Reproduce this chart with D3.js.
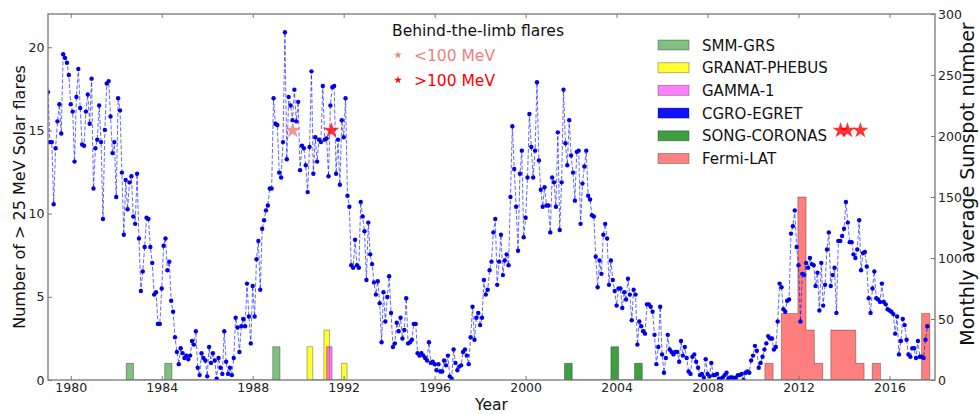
<!DOCTYPE html>
<html>
<head>
<meta charset="utf-8">
<script src="https://cdn.jsdelivr.net/npm/d3@7"></script>
<style>
  body { margin: 0; background: #fff; }
  svg { display: block; font-family: "DejaVu Sans", sans-serif; }
</style>
</head>
<body>
<svg id="chart" width="980" height="414"></svg>
<script>
// monthly average sunspot number, one value per month from Jan 1979
const sunspotStart = 1979;
const sunspot = [
  236,195,195,144,190,212,226,202,267,264,260,250, // 1979
  226,220,179,232,255,223,193,192,220,234,210,247, // 1980
  157,190,197,225,195,132,205,243,245,216,186,195, // 1981
  150,231,221,170,119,164,140,162,167,134,128,169, // 1982
  116,73,89,109,133,132,109,96,70,72,46,46,        // 1983
  75,110,116,90,97,65,56,35,23,13,26,22,           // 1984
  18,20,17,20,32,29,40,10,4,22,18,16,              // 1985
  3,27,14,22,16,1,18,10,5,40,15,5,                 // 1986
  10,4,18,51,43,23,44,50,44,79,52,30,              // 1987
  77,52,99,114,74,124,131,139,143,157,157,231,     // 1988
  210,209,170,166,195,285,181,232,225,213,238,212, // 1989
  228,172,192,190,176,154,191,253,169,199,179,197, // 1990
  195,241,197,198,167,225,240,241,169,197,160,213, // 1991
  199,231,151,142,94,92,115,94,92,146,134,122,     // 1992
  82,129,103,95,80,70,81,63,31,72,48,68,           // 1993
  85,55,27,30,47,40,51,34,41,67,30,31,             // 1994
  33,46,46,22,20,22,20,18,16,31,14,15,             // 1995
  13,8,13,7,7,16,12,20,3,1,25,14,                  // 1996
  8,11,12,23,25,20,13,35,60,33,51,55,              // 1997
  45,51,82,70,74,90,97,121,132,78,97,119,          // 1998
  86,98,103,94,150,208,173,142,106,169,188,117,    // 1999
  133,166,218,191,166,188,244,180,156,142,158,143, // 2000
  143,121,166,162,142,203,123,162,238,194,176,213, // 2001
  184,170,147,187,188,128,161,175,188,151,148,135, // 2002
  134,101,76,98,87,119,128,116,78,98,82,73,        // 2003
  61,75,75,59,72,66,83,70,49,74,70,29,             // 2004
  48,44,40,38,62,62,60,56,37,13,27,60,             // 2005
  21,6,18,37,25,23,21,23,23,15,32,20,              // 2006
  27,18,7,5,19,21,15,10,4,5,2,17,                  // 2007
  5,3,14,4,4,5,1,1,2,4,6,1,                        // 2008
  2,2,1,2,4,4,5,0,6,7,6,16,                        // 2009
  20,28,24,10,14,19,25,30,36,34,34,25,             // 2010
  27,48,79,76,58,56,65,66,120,126,139,109,         // 2011
  94,48,87,86,96,92,100,95,94,77,88,57,            // 2012
  96,61,78,107,121,77,86,92,55,114,114,118,        // 2013
  124,146,129,113,113,103,100,107,131,90,104,105,  // 2014
  93,67,55,75,89,67,66,64,79,64,62,58,             // 2015
  57,56,54,38,52,21,32,50,45,33,21,19,             // 2016
  26,26,18,32,19,19,18,33,44                       // 2017
];

// flare histograms: bin start (year), counts, bin width
const smmStart = [1982.44, 1984.13, 1988.88];
const smmCount = [1, 1, 2];
const granatStart = [1990.39, 1991.13, 1991.90];
const granatCount = [2, 3, 1];
const gammaStart = [1991.25];
const gammaCount = [2];
const songStart = [2001.71, 2003.75, 2004.79];
const songCount = [1, 2, 1];
const fermiStart = [2010.52, 2011.245, 2011.61, 2011.97, 2012.33, 2012.70, 2013.42, 2013.79, 2014.15, 2014.52, 2015.24, 2017.41];
const fermiCount = [1, 4, 4, 11, 3, 1, 3, 3, 3, 1, 1, 4];

// behind-the-limb flares (year, drawn at flare-axis level)
const btlLowYear = [1989.76];
const btlHighYear = [1991.46, 2013.85, 2014.15, 2014.72];
const btlLevel = 15;

const legendNames = ['SMM-GRS', 'GRANAT-PHEBUS', 'GAMMA-1', 'CGRO-EGRET', 'SONG-CORONAS', 'Fermi-LAT'];
const legendColors = ['#80c080', '#ffff33', '#ff80ff', '#1010ff', '#40a040', '#ff8080'];
const yearTicks = [1980, 1984, 1988, 1992, 1996, 2000, 2004, 2008, 2012, 2016];

const svg = d3.select('#chart');
const mLeft = 48, mRight = 935, mTop = 14, mBottom = 380;

const x = d3.scaleLinear().domain([1979, 2018]).range([mLeft, mRight]);
const yL = d3.scaleLinear().domain([0, 22]).range([mBottom, mTop]);
const yR = d3.scaleLinear().domain([0, 300]).range([mBottom, mTop]);

svg.append('clipPath').attr('id', 'clip')
  .append('rect').attr('x', mLeft).attr('y', mTop).attr('width', mRight - mLeft).attr('height', mBottom - mTop);
const plot = svg.append('g').attr('clip-path', 'url(#clip)');

// histograms as step-filled shapes (adjacent bins merge into one outline)
function stepPath(starts, counts, w) {
  const pts = [];
  let prevEnd = null;
  starts.forEach((s, i) => {
    if (prevEnd === null || Math.abs(s - prevEnd) > 0.02) {
      if (prevEnd !== null) pts.push([prevEnd, 0]);
      pts.push([s, 0]);
    }
    pts.push([s, counts[i]]);
    pts.push([s + w, counts[i]]);
    prevEnd = s + w;
  });
  pts.push([prevEnd, 0]);
  return d3.line().x(d => x(d[0])).y(d => yL(d[1]))(pts) + 'Z';
}

const hists = [
  { s: smmStart, c: smmCount, w: 0.32, color: '#008000', alpha: 0.5 },
  { s: granatStart, c: granatCount, w: 0.25, color: '#ffff33', alpha: 1 },
  { s: gammaStart, c: gammaCount, w: 0.24, color: '#ff00ff', alpha: 0.5 },
  { s: songStart, c: songCount, w: 0.34, color: '#008000', alpha: 0.75 },
  { s: fermiStart, c: fermiCount, w: 0.3625, color: '#ff0000', alpha: 0.5 }
];
hists.forEach(h => {
  plot.append('path')
    .attr('d', stepPath(h.s, h.c, h.w))
    .attr('fill', h.color)
    .attr('fill-opacity', h.alpha)
    .attr('stroke', '#000')
    .attr('stroke-opacity', 0.3)
    .attr('stroke-width', 1);
});

// sunspot series
const pts = sunspot.map((v, i) => [sunspotStart + i / 12, v]);
plot.append('path')
  .datum(pts)
  .attr('fill', 'none')
  .attr('stroke', '#0000ff')
  .attr('stroke-opacity', 0.6)
  .attr('stroke-width', 1)
  .attr('stroke-dasharray', '4,2')
  .attr('d', d3.line().x(d => x(d[0])).y(d => yR(d[1])));
plot.selectAll('circle.ss')
  .data(pts)
  .join('circle')
  .attr('class', 'ss')
  .attr('cx', d => x(d[0]))
  .attr('cy', d => yR(d[1]))
  .attr('r', 2.2)
  .attr('fill', '#0000e8');

// behind-the-limb stars
const star = d3.symbol().type(d3.symbolStar);
btlLowYear.forEach(yr => {
  plot.append('path').attr('d', star.size(80)())
    .attr('transform', `translate(${x(yr)},${yL(btlLevel)})`)
    .attr('fill', '#f08080').attr('opacity', 0.85);
});
btlHighYear.forEach(yr => {
  plot.append('path').attr('d', star.size(80)())
    .attr('transform', `translate(${x(yr)},${yL(btlLevel)})`)
    .attr('fill', '#ff0000').attr('opacity', 0.8);
});

// frame
svg.append('rect')
  .attr('x', mLeft).attr('y', mTop)
  .attr('width', mRight - mLeft).attr('height', mBottom - mTop)
  .attr('fill', 'none').attr('stroke', '#777').attr('stroke-width', 1.3);

// axes (ticks pointing inward)
const tickFont = g => g.selectAll('text').attr('font-size', 12.5).attr('fill', '#222').attr('font-family', '"DejaVu Sans", sans-serif');
const clean = g => { g.select('.domain').remove(); g.selectAll('line').attr('stroke', '#777'); };

svg.append('g').attr('transform', `translate(0,${mBottom})`)
  .call(d3.axisBottom(x).tickValues(yearTicks).tickFormat(d3.format('d')).tickSizeInner(-4).tickPadding(3.5))
  .call(clean).call(tickFont);
svg.append('g').attr('transform', `translate(0,${mTop})`)
  .call(d3.axisTop(x).tickValues(yearTicks).tickSizeInner(-4).tickFormat(''))
  .call(clean);
svg.append('g').attr('transform', `translate(${mLeft},0)`)
  .call(d3.axisLeft(yL).tickValues([0, 5, 10, 15, 20]).tickSizeInner(-4).tickPadding(3.5))
  .call(clean).call(tickFont);
svg.append('g').attr('transform', `translate(${mRight},0)`)
  .call(d3.axisRight(yR).tickValues([0, 50, 100, 150, 200, 250, 300]).tickSizeInner(-4).tickPadding(3))
  .call(clean).call(tickFont);

// axis titles
svg.append('text').attr('x', (mLeft + mRight) / 2).attr('y', 410)
  .attr('text-anchor', 'middle').attr('font-size', 15.5).attr('fill', '#111').text('Year');
svg.append('text').attr('transform', `translate(25,${(mTop + mBottom) / 2}) rotate(-90)`)
  .attr('text-anchor', 'middle').attr('font-size', 16).attr('fill', '#111')
  .text('Number of > 25 MeV Solar flares');
svg.append('text').attr('transform', 'translate(974,184) rotate(-90)')
  .attr('text-anchor', 'middle').attr('font-size', 19).attr('fill', '#111')
  .text('Monthly average Sunspot number');

// behind-the-limb legend
svg.append('text').attr('x', 392).attr('y', 36).attr('font-size', 15.5).attr('fill', '#111').text('Behind-the-limb flares');
[['<100 MeV', '#f08080'], ['>100 MeV', '#ff0000']].forEach((d, i) => {
  const yy = 55 + i * 25;
  svg.append('path').attr('d', star.size(18)())
    .attr('transform', `translate(398,${yy})`).attr('fill', d[1]);
  svg.append('text').attr('x', 414).attr('y', yy + 5.5)
    .attr('font-size', 15.5).attr('fill', d[1]).text(d[0]);
});

// instrument legend
legendNames.forEach((name, i) => {
  const yy = 45 + i * 22.7;
  svg.append('rect').attr('x', 658).attr('y', yy - 5).attr('width', 31).attr('height', 10)
    .attr('fill', legendColors[i]).attr('stroke', '#000').attr('stroke-opacity', 0.3);
  svg.append('text').attr('x', 702).attr('y', yy + 5.5)
    .attr('font-size', 15).attr('fill', '#111').text(name);
});
</script>
</body>
</html>
